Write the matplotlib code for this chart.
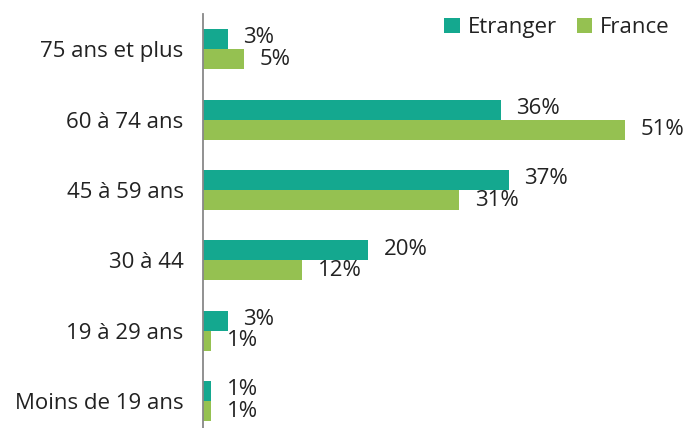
import matplotlib
matplotlib.use("Agg")
from matplotlib import pyplot as plt
import numpy as np

categories = ["75 ans et plus", "60 à 74 ans", "45 à 59 ans", "30 à 44", "19 à 29 ans", "Moins de 19 ans"]
etranger = [3, 36, 37, 20, 3, 1]
france = [5, 51, 31, 12, 1, 1]

c_etr = "#14a88f"
c_fra = "#95c151"

plt.rcParams['font.family'] = ['Open Sans', 'DejaVu Sans']

fig = plt.figure(figsize=(6.92, 4.28), dpi=100)
ax = fig.add_axes([203 / 692, 0, 1 - 203 / 692, 1 - 14 / 428])

y = np.arange(len(categories))
h = 0.284
ax.barh(y - h / 2, etranger, height=h, color=c_etr, label="Etranger")
ax.barh(y + h / 2, france, height=h, color=c_fra, label="France")

for i in range(len(categories)):
    ax.annotate(f"{etranger[i]}%", (etranger[i], y[i] - h / 2), xytext=(11, 1),
                textcoords="offset points", va="center", ha="left", fontsize=16, color="#222222")
    ax.annotate(f"{france[i]}%", (france[i], y[i] + h / 2), xytext=(11, 0),
                textcoords="offset points", va="center", ha="left", fontsize=16, color="#222222")

ax.set_xlim(0, 59.1)
ax.set_ylim(5.38, -0.5)
ax.set_yticks(y)
ax.set_yticklabels(categories, fontsize=16, color="#222222")
ax.tick_params(axis="y", length=0, pad=14)
ax.set_xticks([])
for s in ["top", "right", "bottom"]:
    ax.spines[s].set_visible(False)
ax.spines["left"].set_color("#888888")
ax.spines["left"].set_linewidth(1.3)

leg = ax.legend(loc="upper right", bbox_to_anchor=(0.995, 1.04), ncol=2, frameon=False,
                fontsize=16, handlelength=0.7, handleheight=0.7, handletextpad=0.35,
                columnspacing=0.9, labelcolor="#222222")

fig.savefig("out.png", dpi=100)
